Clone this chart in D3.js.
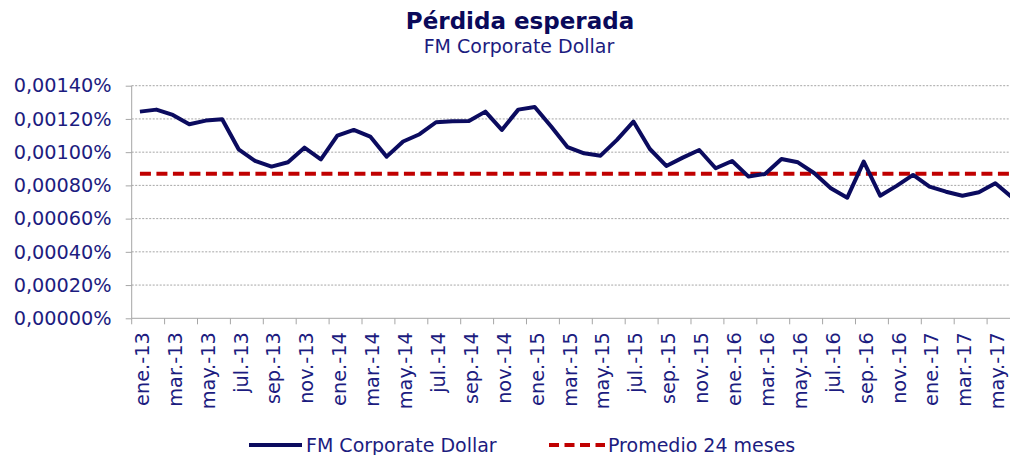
<!DOCTYPE html>
<html>
<head>
<meta charset="utf-8">
<script src="https://cdn.jsdelivr.net/npm/d3@7"></script>
<style>
  html, body { margin: 0; padding: 0; background: #fff; overflow: hidden; }
  text { font-family: "DejaVu Sans", Verdana, sans-serif; }
</style>
</head>
<body>
<script>
// month names (Spanish) and years for the category axis
const meses = ["ene.", "feb.", "mar.", "abr.", "may.", "jun.", "jul.", "ago.", "sep.", "oct.", "nov.", "dic."];
const anios = ["13", "14", "15", "16", "17"];

// FM Corporate Dollar, expected loss in % (ene.-13 .. jun.-17)
const perdida = [
    0.001244, 0.001256, 0.001224, 0.001168, 0.001190, 0.001198, 0.001017, 0.000947, 0.000913, 0.000939, 0.001027, 0.000957,
    0.001100, 0.001134, 0.001094, 0.000973, 0.001064, 0.001108, 0.001180, 0.001186, 0.001188, 0.001244, 0.001134, 0.001256,
    0.001272, 0.001154, 0.001030, 0.000993, 0.000979, 0.001074, 0.001184, 0.001019, 0.000917, 0.000967, 0.001013, 0.000903,
    0.000947, 0.000853, 0.000869, 0.000959, 0.000939, 0.000873, 0.000783, 0.000726, 0.000943, 0.000738, 0.000797, 0.000863,
    0.000793, 0.000762, 0.000738, 0.000759, 0.000813, 0.000730
];

// 24 month average
const promedio = 0.00087;

const yTicks = [0, 0.0002, 0.0004, 0.0006, 0.0008, 0.0010, 0.0012, 0.0014];

const categorias = [];
anios.forEach(a => meses.forEach(m => categorias.push(m + "-" + a)));
const cats = categorias.slice(0, perdida.length);
const etiquetas = cats.filter((c, i) => i % 2 === 0);

const W = 1010, H = 455;
const navy = "#0b0b5f";
const textCol = "#1c1c80";
const red = "#c00000";
const gridCol = "#a6a6a6";

const plot = {left: 131.7, top: 85.7, bottom: 318.3, step: 16.45};

const svg = d3.select("body").append("svg")
    .attr("width", W)
    .attr("height", H);

const x = d3.scaleBand()
    .domain(cats)
    .range([plot.left, plot.left + plot.step * cats.length])
    .padding(0);

const y = d3.scaleLinear()
    .domain([0, 0.0014])
    .range([plot.bottom, plot.top]);

const fmt = d3.format(".5f");

// title
svg.append("text")
    .attr("x", 520).attr("y", 29)
    .attr("text-anchor", "middle")
    .style("font-size", "23px")
    .style("font-weight", "bold")
    .attr("fill", "#0a0a5a")
    .text("Pérdida esperada");

svg.append("text")
    .attr("x", 519).attr("y", 53)
    .attr("text-anchor", "middle")
    .style("font-size", "19px")
    .attr("fill", textCol)
    .text("FM Corporate Dollar");

// gridlines
svg.append("g")
    .attr("class", "grid")
    .selectAll("line")
    .data(yTicks.filter(d => d > 0))
    .join("line")
    .attr("x1", plot.left)
    .attr("x2", W)
    .attr("y1", d => y(d))
    .attr("y2", d => y(d))
    .attr("stroke", gridCol)
    .attr("stroke-width", 1)
    .attr("stroke-dasharray", "2,1.5");

// y axis
const yAxis = d3.axisLeft(y)
    .tickValues(yTicks)
    .tickSize(6)
    .tickPadding(14)
    .tickFormat(d => fmt(d).replace(".", ",") + "%");

const gy = svg.append("g")
    .attr("class", "yaxis")
    .attr("transform", "translate(" + plot.left + ",0)")
    .call(yAxis);
gy.select(".domain").attr("stroke", gridCol).attr("d", "M0," + plot.top + "V" + plot.bottom);
gy.selectAll(".tick line").attr("stroke", gridCol);
gy.selectAll(".tick text")
    .attr("fill", textCol)
    .style("font-size", "19.3px")
    .style("font-family", '"DejaVu Sans", Verdana, sans-serif');

// x axis
const xAxis = d3.axisBottom(x)
    .tickValues(etiquetas)
    .tickSize(6)
    .tickSizeOuter(0);

const gx = svg.append("g")
    .attr("class", "xaxis")
    .attr("transform", "translate(0," + plot.bottom + ")")
    .call(xAxis);
gx.select(".domain").attr("stroke", gridCol).attr("d", "M" + plot.left + ",0H" + W);
gx.selectAll(".tick line")
    .attr("stroke", gridCol)
    .attr("x1", -x.bandwidth() / 2)
    .attr("x2", -x.bandwidth() / 2);
gx.selectAll(".tick text")
    .attr("fill", textCol)
    .style("font-size", "19.3px")
    .style("font-family", '"DejaVu Sans", Verdana, sans-serif')
    .attr("text-anchor", "end")
    .attr("transform", "translate(2,14) rotate(-90)")
    .attr("x", 0)
    .attr("y", 0)
    .attr("dy", "0.36em");

const cx = d => x(d) + x.bandwidth() / 2;

// average line
svg.append("line")
    .attr("x1", cx(cats[0]))
    .attr("x2", cx(cats[cats.length - 1]))
    .attr("y1", y(promedio))
    .attr("y2", y(promedio))
    .attr("stroke", red)
    .attr("stroke-width", 4)
    .attr("stroke-dasharray", "11,5.5");

// main series
const line = d3.line()
    .x((d, i) => cx(cats[i]))
    .y(d => y(d));

svg.append("path")
    .datum(perdida)
    .attr("d", line)
    .attr("fill", "none")
    .attr("stroke", navy)
    .attr("stroke-width", 4)
    .attr("stroke-linejoin", "round");

// legend
const leg = svg.append("g").attr("class", "legend");
leg.append("line")
    .attr("x1", 249).attr("x2", 302)
    .attr("y1", 445).attr("y2", 445)
    .attr("stroke", navy).attr("stroke-width", 4);
leg.append("text")
    .attr("x", 306).attr("y", 452)
    .style("font-size", "19px")
    .attr("fill", textCol)
    .text("FM Corporate Dollar");
leg.append("line")
    .attr("x1", 549).attr("x2", 605)
    .attr("y1", 445).attr("y2", 445)
    .attr("stroke", red).attr("stroke-width", 4)
    .attr("stroke-dasharray", "10,5.5");
leg.append("text")
    .attr("x", 608).attr("y", 452)
    .style("font-size", "19px")
    .attr("fill", textCol)
    .text("Promedio 24 meses");
</script>
</body>
</html>
